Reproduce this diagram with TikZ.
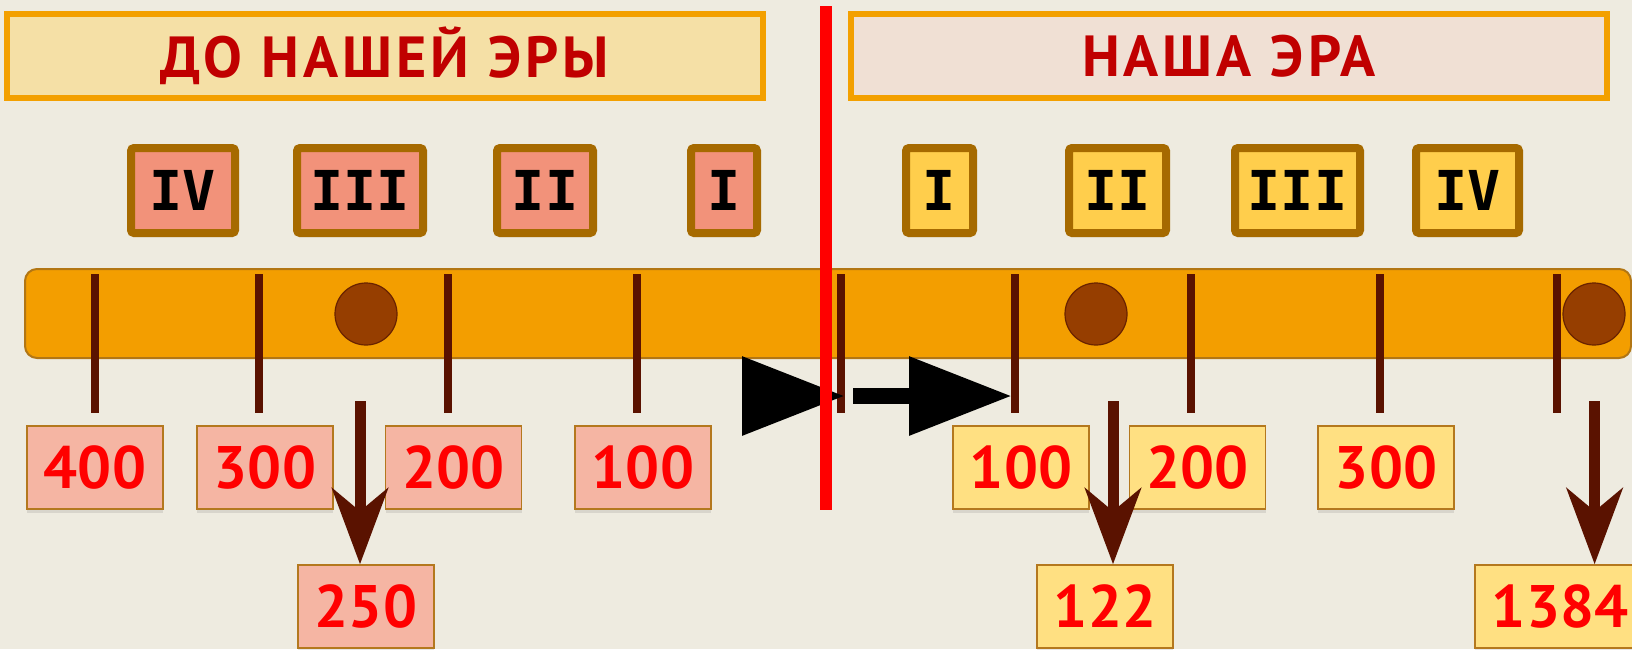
\documentclass[tikz,border=0pt]{standalone}
\usepackage{fontspec}
\setmainfont{PT Sans}
\setmonofont{DejaVu Sans Mono}
\usepackage{tikz}
\usetikzlibrary{arrows.meta,shadows}

\definecolor{paper}{RGB}{238,235,224}
\definecolor{eraline}{RGB}{243,160,0}
\definecolor{erabc}{RGB}{245,224,166}
\definecolor{eraad}{RGB}{240,224,212}
\definecolor{erared}{RGB}{192,0,0}
\definecolor{centline}{RGB}{166,106,0}
\definecolor{centbc}{RGB}{242,146,122}
\definecolor{centad}{RGB}{255,206,76}
\definecolor{yearline}{RGB}{180,120,30}
\definecolor{yearbc}{RGB}{245,181,163}
\definecolor{yearad}{RGB}{255,224,130}
\definecolor{barfill}{RGB}{243,158,0}
\definecolor{barline}{RGB}{178,118,20}
\definecolor{notchcol}{RGB}{90,18,0}
\definecolor{dotfill}{RGB}{150,62,0}
\definecolor{dotline}{RGB}{105,35,0}

\begin{document}
\begin{tikzpicture}[x=1pt,y=-1pt,
    era/.style={draw=eraline,line width=6pt,inner sep=0pt,minimum width=756pt,minimum height=84pt,
      text=erared,font=\fontsize{58}{60}\selectfont\bfseries\addfontfeature{LetterSpace=7}},
    cent/.style={draw=centline,line width=8pt,rounded corners=3pt,inner sep=0pt,minimum height=85pt,
      font=\fontsize{55}{58}\selectfont\ttfamily\bfseries,
      drop shadow={shadow xshift=0pt,shadow yshift=-4pt,opacity=0.2}},
    year/.style={draw=yearline,line width=1.5pt,inner sep=0pt,minimum width=136pt,minimum height=83pt,
      text=red,font=\fontsize{60}{60}\selectfont\bfseries,
      drop shadow={shadow xshift=0pt,shadow yshift=-4pt,opacity=0.2}},
    notch/.style={draw=notchcol,line width=8pt},
    dot/.style={circle,fill=dotfill,draw=dotline,line width=1.2pt,minimum size=62pt,inner sep=0pt},
    down/.style={draw=notchcol,line width=11pt,-{Stealth[length=76pt,width=56pt,inset=23pt]}},
    forth/.style={draw=black,line width=16pt,-{Triangle[length=103pt,width=75pt]}}]
    \fill[paper] (0,0) rectangle (1632,649);
    \useasboundingbox (0,0) rectangle (1632,649);
    % eras
    \node[era,fill=erabc] (bc) at (385,55.8) {ДО НАШЕЙ ЭРЫ};
    \node[era,fill=eraad] (ad) at (1229,55.8) {НАША ЭРА};
    % centuries
    \node[cent,fill=centbc,minimum width=104pt] (bc4) at (183,190.5) {IV};
    \node[cent,fill=centbc,minimum width=126pt] (bc3) at (360,190.5) {III};
    \node[cent,fill=centbc,minimum width=96pt] (bc2) at (545,190.5) {II};
    \node[cent,fill=centbc,minimum width=66pt] (bc1) at (724,190.5) {I};
    \node[cent,fill=centad,minimum width=67pt] (ad1) at (939.5,190.5) {I};
    \node[cent,fill=centad,minimum width=97pt] (ad2) at (1117.5,190.5) {II};
    \node[cent,fill=centad,minimum width=125pt] (ad3) at (1297.5,190.5) {III};
    \node[cent,fill=centad,minimum width=103pt] (ad4) at (1467.5,190.5) {IV};
    % time line
    \draw[fill=barfill,draw=barline,line width=2pt,rounded corners=12pt] (25,269) rectangle (1631,358);
    \foreach \x in {94.7,259,447.7,636.5,841,1015,1191,1380,1556.7}
        \draw[notch] (\x,274) -- (\x,413);
    \node[dot] (d250) at (366,314) {};
    \node[dot] (d122) at (1096,314) {};
    \node[dot] (d1384) at (1594,314) {};
    % years
    \node[year,fill=yearbc] (bc400) at (95,467.5) {400};
    \node[year,fill=yearbc] (bc300) at (265,467.5) {300};
    \node[year,fill=yearbc] (bc200) at (453.7,467.5) {200};
    \node[year,fill=yearbc] (bc100) at (643,467.5) {100};
    \node[year,fill=yearad] (ad100) at (1021,467.5) {100};
    \node[year,fill=yearad] (ad200) at (1197.5,467.5) {200};
    \node[year,fill=yearad] (ad300) at (1386,467.5) {300};
    \node[year,fill=yearbc] (bc250) at (366,606.5) {250};
    \node[year,fill=yearad] (ad122) at (1105,606.5) {122};
    \node[year,fill=yearad,minimum width=170pt] (ad1384) at (1560,606.5) {1384};
    % direction
    \coordinate (f0) at (742,396);
    \coordinate (f1) at (845,396);
    \coordinate (g0) at (853,396);
    \coordinate (g1) at (1012,396);
    \draw[forth] (f0) -- (f1);
    \draw[forth] (g0) -- (g1);
    \draw[red,line width=12pt] (826,6) -- (826,510);
    % dates
    \coordinate (t250) at (360,401);
    \coordinate (t122) at (1113,401);
    \coordinate (t1384) at (1594.6,401);
    \draw[down] (t250) -- (t250 |- bc250.north);
    \draw[down] (t122) -- (t122 |- ad122.north);
    \draw[down] (t1384) -- (t1384 |- ad1384.north);
\end{tikzpicture}
\end{document}
